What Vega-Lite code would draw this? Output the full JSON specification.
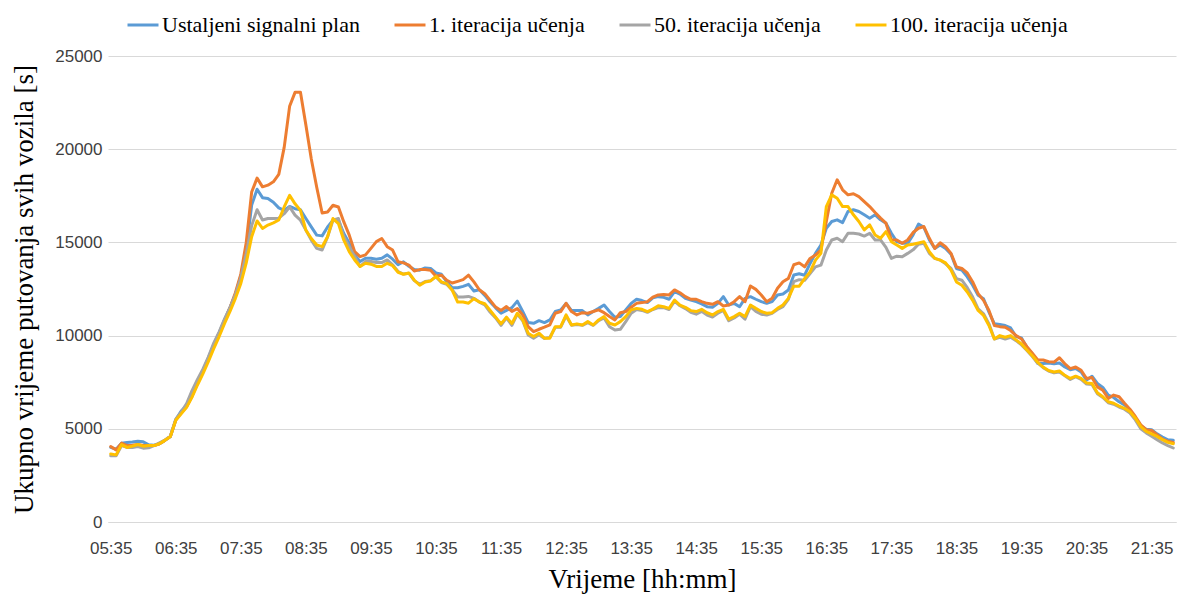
{
 "$schema": "https://vega.github.io/schema/vega-lite/v6.json",
 "width": 1068,
 "height": 466,
 "autosize": {"type": "none"},
 "padding": {"left": 108, "top": 56, "right": 8, "bottom": 76},
 "background": "white",
 "data": {"values": [
{"t":"05:35","B":4000,"O":4050,"G":3550,"Y":3650},
{"t":"05:40","B":3900,"O":3870,"G":3550,"Y":3600},
{"t":"05:45","B":4230,"O":4230,"G":4100,"Y":4150},
{"t":"05:50","B":4270,"O":4100,"G":4000,"Y":4000},
{"t":"05:55","B":4290,"O":4120,"G":4000,"Y":4070},
{"t":"06:00","B":4330,"O":4160,"G":4050,"Y":4160},
{"t":"06:05","B":4300,"O":4100,"G":3960,"Y":4070},
{"t":"06:10","B":4140,"O":4100,"G":3980,"Y":4100},
{"t":"06:15","B":4120,"O":4100,"G":4100,"Y":4100},
{"t":"06:20","B":4200,"O":4200,"G":4250,"Y":4200},
{"t":"06:25","B":4380,"O":4380,"G":4400,"Y":4380},
{"t":"06:30","B":4590,"O":4590,"G":4600,"Y":4580},
{"t":"06:35","B":5500,"O":5460,"G":5500,"Y":5460},
{"t":"06:40","B":5950,"O":5850,"G":5900,"Y":5800},
{"t":"06:45","B":6250,"O":6200,"G":6350,"Y":6150},
{"t":"06:50","B":6850,"O":6750,"G":7050,"Y":6700},
{"t":"06:55","B":7500,"O":7450,"G":7650,"Y":7350},
{"t":"07:00","B":8100,"O":8050,"G":8200,"Y":7950},
{"t":"07:05","B":8800,"O":8700,"G":8850,"Y":8600},
{"t":"07:10","B":9500,"O":9450,"G":9600,"Y":9300},
{"t":"07:15","B":10150,"O":10100,"G":10200,"Y":9950},
{"t":"07:20","B":10850,"O":10800,"G":10900,"Y":10650},
{"t":"07:25","B":11500,"O":11500,"G":11500,"Y":11300},
{"t":"07:30","B":12200,"O":12300,"G":12200,"Y":12000},
{"t":"07:35","B":13200,"O":13300,"G":13100,"Y":12800},
{"t":"07:40","B":14600,"O":15000,"G":14400,"Y":13900},
{"t":"07:45","B":17000,"O":17700,"G":15900,"Y":15300},
{"t":"07:50","B":17850,"O":18450,"G":16750,"Y":16150},
{"t":"07:55","B":17400,"O":17980,"G":16200,"Y":15750},
{"t":"08:00","B":17350,"O":18070,"G":16280,"Y":15930},
{"t":"08:05","B":17150,"O":18250,"G":16280,"Y":16050},
{"t":"08:10","B":16850,"O":18650,"G":16300,"Y":16200},
{"t":"08:15","B":16720,"O":20100,"G":16540,"Y":16900},
{"t":"08:20","B":16930,"O":22300,"G":16900,"Y":17520},
{"t":"08:25","B":16810,"O":23050,"G":16460,"Y":17070},
{"t":"08:30","B":16750,"O":23050,"G":16190,"Y":16720},
{"t":"08:35","B":16280,"O":21300,"G":15660,"Y":15660},
{"t":"08:40","B":15830,"O":19470,"G":15120,"Y":15210},
{"t":"08:45","B":15390,"O":17960,"G":14680,"Y":14860},
{"t":"08:50","B":15350,"O":16580,"G":14590,"Y":14770},
{"t":"08:55","B":15830,"O":16630,"G":15300,"Y":15300},
{"t":"09:00","B":16190,"O":16990,"G":16190,"Y":16280},
{"t":"09:05","B":16190,"O":16900,"G":16280,"Y":16010},
{"t":"09:10","B":15480,"O":16100,"G":15300,"Y":15120},
{"t":"09:15","B":14950,"O":15390,"G":14770,"Y":14500},
{"t":"09:20","B":14330,"O":14500,"G":14240,"Y":14060},
{"t":"09:25","B":13970,"O":14240,"G":13710,"Y":13710},
{"t":"09:30","B":14150,"O":14330,"G":13970,"Y":13880},
{"t":"09:35","B":14150,"O":14680,"G":13970,"Y":13830},
{"t":"09:40","B":14100,"O":15040,"G":13920,"Y":13710},
{"t":"09:45","B":14150,"O":15210,"G":13920,"Y":13710},
{"t":"09:50","B":14330,"O":14770,"G":14060,"Y":13880},
{"t":"09:55","B":14100,"O":14590,"G":13800,"Y":13750},
{"t":"10:00","B":13800,"O":13960,"G":13440,"Y":13400},
{"t":"10:05","B":13960,"O":13900,"G":13300,"Y":13290},
{"t":"10:10","B":13720,"O":13780,"G":13350,"Y":13360},
{"t":"10:15","B":13540,"O":13470,"G":12950,"Y":12970},
{"t":"10:20","B":13510,"O":13540,"G":12750,"Y":12700},
{"t":"10:25","B":13630,"O":13540,"G":12900,"Y":12880},
{"t":"10:30","B":13600,"O":13510,"G":12950,"Y":12930},
{"t":"10:35","B":13360,"O":13180,"G":13150,"Y":13180},
{"t":"10:40","B":13290,"O":13240,"G":12850,"Y":12880},
{"t":"10:45","B":12880,"O":12970,"G":12750,"Y":12790},
{"t":"10:50","B":12570,"O":12820,"G":12450,"Y":12430},
{"t":"10:55","B":12570,"O":12910,"G":12070,"Y":11800},
{"t":"11:00","B":12640,"O":13000,"G":12070,"Y":11800},
{"t":"11:05","B":12750,"O":13240,"G":12100,"Y":11740},
{"t":"11:10","B":12390,"O":12880,"G":12000,"Y":11980},
{"t":"11:15","B":12460,"O":12460,"G":11800,"Y":11800},
{"t":"11:20","B":12160,"O":12250,"G":11650,"Y":11710},
{"t":"11:25","B":11800,"O":11890,"G":11250,"Y":11350},
{"t":"11:30","B":11490,"O":11530,"G":10950,"Y":10990},
{"t":"11:35","B":11200,"O":11350,"G":10550,"Y":10630},
{"t":"11:40","B":11350,"O":11560,"G":10950,"Y":10990},
{"t":"11:45","B":11500,"O":11300,"G":10550,"Y":10650},
{"t":"11:50","B":11850,"O":11450,"G":11150,"Y":11200},
{"t":"11:55","B":11290,"O":11110,"G":10800,"Y":10840},
{"t":"12:00","B":10700,"O":10480,"G":10040,"Y":10130},
{"t":"12:05","B":10660,"O":10210,"G":9860,"Y":9950},
{"t":"12:10","B":10800,"O":10340,"G":10050,"Y":10130},
{"t":"12:15","B":10700,"O":10450,"G":9850,"Y":9860},
{"t":"12:20","B":10840,"O":10570,"G":9900,"Y":9860},
{"t":"12:25","B":11290,"O":11200,"G":10450,"Y":10480},
{"t":"12:30","B":11380,"O":11290,"G":10450,"Y":10480},
{"t":"12:35","B":11730,"O":11730,"G":11050,"Y":11110},
{"t":"12:40","B":11340,"O":11290,"G":10550,"Y":10570},
{"t":"12:45","B":11340,"O":11110,"G":10600,"Y":10630},
{"t":"12:50","B":11340,"O":11230,"G":10550,"Y":10570},
{"t":"12:55","B":11110,"O":11200,"G":10700,"Y":10750},
{"t":"13:00","B":11290,"O":11290,"G":10550,"Y":10570},
{"t":"13:05","B":11460,"O":11380,"G":10800,"Y":10840},
{"t":"13:10","B":11640,"O":11230,"G":10950,"Y":11020},
{"t":"13:15","B":11290,"O":11020,"G":10480,"Y":10660},
{"t":"13:20","B":10980,"O":10840,"G":10300,"Y":10570},
{"t":"13:25","B":11020,"O":11230,"G":10340,"Y":10750},
{"t":"13:30","B":11380,"O":11290,"G":10750,"Y":11020},
{"t":"13:35","B":11730,"O":11520,"G":11200,"Y":11380},
{"t":"13:40","B":11950,"O":11730,"G":11400,"Y":11460},
{"t":"13:45","B":11880,"O":11770,"G":11350,"Y":11410},
{"t":"13:50","B":11770,"O":11820,"G":11250,"Y":11290},
{"t":"13:55","B":12030,"O":12060,"G":11400,"Y":11420},
{"t":"14:00","B":12090,"O":12180,"G":11500,"Y":11600},
{"t":"14:05","B":12050,"O":12210,"G":11500,"Y":11550},
{"t":"14:10","B":11950,"O":12180,"G":11400,"Y":11460},
{"t":"14:15","B":12360,"O":12450,"G":11850,"Y":11910},
{"t":"14:20","B":12230,"O":12300,"G":11600,"Y":11640},
{"t":"14:25","B":12000,"O":12090,"G":11450,"Y":11520},
{"t":"14:30","B":11910,"O":11950,"G":11250,"Y":11340},
{"t":"14:35","B":11820,"O":11950,"G":11150,"Y":11290},
{"t":"14:40","B":11700,"O":11820,"G":11300,"Y":11410},
{"t":"14:45","B":11550,"O":11730,"G":11100,"Y":11230},
{"t":"14:50","B":11520,"O":11680,"G":11000,"Y":11110},
{"t":"14:55","B":11730,"O":11820,"G":11200,"Y":11290},
{"t":"15:00","B":12090,"O":11590,"G":11350,"Y":11410},
{"t":"15:05","B":11640,"O":11640,"G":10800,"Y":10880},
{"t":"15:10","B":11730,"O":11820,"G":10950,"Y":11020},
{"t":"15:15","B":11550,"O":12090,"G":11150,"Y":11200},
{"t":"15:20","B":12000,"O":11820,"G":10880,"Y":11020},
{"t":"15:25","B":12090,"O":12660,"G":11550,"Y":11640},
{"t":"15:30","B":11950,"O":12480,"G":11300,"Y":11460},
{"t":"15:35","B":11820,"O":12180,"G":11150,"Y":11290},
{"t":"15:40","B":11730,"O":11820,"G":11100,"Y":11200},
{"t":"15:45","B":11820,"O":12000,"G":11200,"Y":11230},
{"t":"15:50","B":12180,"O":12540,"G":11400,"Y":11460},
{"t":"15:55","B":12230,"O":12890,"G":11550,"Y":11640},
{"t":"16:00","B":12450,"O":13070,"G":11950,"Y":12000},
{"t":"16:05","B":13250,"O":13800,"G":12900,"Y":12650},
{"t":"16:10","B":13320,"O":13900,"G":13000,"Y":12650},
{"t":"16:15","B":13240,"O":13690,"G":12970,"Y":13060},
{"t":"16:20","B":13870,"O":14140,"G":13330,"Y":13420},
{"t":"16:25","B":14410,"O":14320,"G":13690,"Y":14050},
{"t":"16:30","B":14860,"O":14590,"G":13780,"Y":14410},
{"t":"16:35","B":15760,"O":16120,"G":14590,"Y":16920},
{"t":"16:40","B":16120,"O":17640,"G":15130,"Y":17550},
{"t":"16:45","B":16210,"O":18360,"G":15220,"Y":17370},
{"t":"16:50","B":16060,"O":17820,"G":15040,"Y":16920},
{"t":"16:55","B":16660,"O":17550,"G":15490,"Y":16920},
{"t":"17:00","B":16750,"O":17610,"G":15490,"Y":16480},
{"t":"17:05","B":16660,"O":17460,"G":15450,"Y":16120},
{"t":"17:10","B":16480,"O":17190,"G":15340,"Y":15670},
{"t":"17:15","B":16300,"O":16920,"G":15490,"Y":15940},
{"t":"17:20","B":16480,"O":16600,"G":15130,"Y":15400},
{"t":"17:25","B":16210,"O":16300,"G":15130,"Y":15220},
{"t":"17:30","B":16030,"O":16030,"G":14730,"Y":15580},
{"t":"17:35","B":15490,"O":15130,"G":14140,"Y":15040},
{"t":"17:40","B":15040,"O":15130,"G":14260,"Y":14860},
{"t":"17:45","B":14950,"O":14950,"G":14230,"Y":14680},
{"t":"17:50","B":14950,"O":15130,"G":14410,"Y":14860},
{"t":"17:55","B":15400,"O":15530,"G":14600,"Y":14900},
{"t":"18:00","B":15980,"O":15760,"G":14900,"Y":14970},
{"t":"18:05","B":15810,"O":15850,"G":14950,"Y":15040},
{"t":"18:10","B":15130,"O":15220,"G":14410,"Y":14500},
{"t":"18:15","B":14680,"O":14680,"G":14140,"Y":14140},
{"t":"18:20","B":14860,"O":14980,"G":14050,"Y":14050},
{"t":"18:25","B":14680,"O":14770,"G":13850,"Y":13900},
{"t":"18:30","B":14370,"O":14410,"G":13600,"Y":13510},
{"t":"18:35","B":13600,"O":13690,"G":13060,"Y":12880},
{"t":"18:40","B":13510,"O":13600,"G":12970,"Y":12700},
{"t":"18:45","B":13150,"O":13360,"G":12570,"Y":12340},
{"t":"18:50","B":12700,"O":12880,"G":12070,"Y":11890},
{"t":"18:55","B":12160,"O":12250,"G":11440,"Y":11350},
{"t":"19:00","B":11980,"O":11890,"G":11170,"Y":11080},
{"t":"19:05","B":11260,"O":11350,"G":10630,"Y":10540},
{"t":"19:10","B":10630,"O":10540,"G":9820,"Y":9820},
{"t":"19:15","B":10590,"O":10480,"G":9910,"Y":10000},
{"t":"19:20","B":10540,"O":10450,"G":9820,"Y":9910},
{"t":"19:25","B":10410,"O":10270,"G":9910,"Y":10000},
{"t":"19:30","B":9950,"O":10000,"G":9730,"Y":9770},
{"t":"19:35","B":9870,"O":9820,"G":9500,"Y":9550},
{"t":"19:40","B":9370,"O":9410,"G":9200,"Y":9230},
{"t":"19:45","B":9010,"O":9050,"G":8880,"Y":8920},
{"t":"19:50","B":8500,"O":8690,"G":8520,"Y":8560},
{"t":"19:55","B":8500,"O":8690,"G":8280,"Y":8310},
{"t":"20:00","B":8530,"O":8600,"G":8100,"Y":8130},
{"t":"20:05","B":8490,"O":8580,"G":8000,"Y":8050},
{"t":"20:10","B":8530,"O":8810,"G":8050,"Y":8100},
{"t":"20:15","B":8320,"O":8490,"G":7850,"Y":7870},
{"t":"20:20","B":8170,"O":8230,"G":7650,"Y":7700},
{"t":"20:25","B":8230,"O":8320,"G":7800,"Y":7820},
{"t":"20:30","B":8050,"O":8140,"G":7650,"Y":7700},
{"t":"20:35","B":7610,"O":7700,"G":7400,"Y":7460},
{"t":"20:40","B":7820,"O":7750,"G":7380,"Y":7430},
{"t":"20:45","B":7430,"O":7250,"G":6880,"Y":6930},
{"t":"20:50","B":7220,"O":7070,"G":6680,"Y":6720},
{"t":"20:55","B":6810,"O":6630,"G":6400,"Y":6450},
{"t":"21:00","B":6680,"O":6810,"G":6320,"Y":6370},
{"t":"21:05","B":6450,"O":6720,"G":6170,"Y":6220},
{"t":"21:10","B":6280,"O":6370,"G":6050,"Y":6100},
{"t":"21:15","B":6010,"O":6050,"G":5850,"Y":5920},
{"t":"21:20","B":5570,"O":5660,"G":5480,"Y":5570},
{"t":"21:25","B":5160,"O":5210,"G":5000,"Y":5120},
{"t":"21:30","B":4980,"O":4950,"G":4780,"Y":4860},
{"t":"21:35","B":4950,"O":4910,"G":4600,"Y":4730},
{"t":"21:40","B":4730,"O":4680,"G":4420,"Y":4590},
{"t":"21:45","B":4560,"O":4450,"G":4240,"Y":4420},
{"t":"21:50","B":4410,"O":4330,"G":4100,"Y":4270},
{"t":"21:55","B":4380,"O":4270,"G":3970,"Y":4200}
 ]},
 "transform": [{"fold": ["B", "O", "G", "Y"], "as": ["s", "v"]}],
 "mark": {"type": "line", "strokeWidth": 3, "strokeJoin": "round", "strokeCap": "round"},
 "encoding": {
  "x": {
   "field": "t", "type": "ordinal",
   "scale": {"type": "point", "padding": 0.5},
   "axis": {
    "values": ["05:35","06:35","07:35","08:35","09:35","10:35","11:35","12:35","13:35","14:35","15:35","16:35","17:35","18:35","19:35","20:35","21:35"],
    "title": "Vrijeme [hh:mm]",
    "labelAngle": 0, "labelFont": "Liberation Sans", "labelFontSize": 17, "labelColor": "#404040",
    "labelPadding": 18, "ticks": false, "grid": false, "domainColor": "#D9D9D9", "domainWidth": 1,
    "titleFont": "Liberation Serif", "titleFontSize": 27, "titleFontWeight": "normal", "titleColor": "#000000", "titlePadding": 10
   }
  },
  "y": {
   "field": "v", "type": "quantitative",
   "scale": {"domain": [0, 25000], "nice": false},
   "axis": {
    "values": [0, 5000, 10000, 15000, 20000, 25000],
    "format": "d",
    "title": "Ukupno vrijeme putovanja svih vozila [s]",
    "labelFont": "Liberation Sans", "labelFontSize": 17, "labelColor": "#404040", "labelPadding": 6,
    "ticks": false, "domain": false, "gridColor": "#D9D9D9", "gridWidth": 1,
    "titleFont": "Liberation Serif", "titleFontSize": 27, "titleFontWeight": "normal", "titleColor": "#000000", "titlePadding": 16
   }
  },
  "color": {
   "field": "s", "type": "nominal",
   "scale": {"domain": ["B", "O", "G", "Y"], "range": ["#5B9BD5", "#ED7D31", "#A5A5A5", "#FFC000"]},
   "legend": {
    "orient": "none", "legendX": 18, "legendY": -48, "direction": "horizontal", "columns": 4,
    "title": null, "symbolType": "stroke", "symbolSize": 961, "symbolStrokeWidth": 3,
    "labelFont": "Liberation Serif", "labelFontSize": 22, "labelColor": "#000000", "labelLimit": 400,
    "labelOffset": 2, "columnPadding": 28,
    "labelExpr": "{'B': 'Ustaljeni signalni plan', 'O': '1. iteracija učenja', 'G': '50. iteracija učenja', 'Y': '100. iteracija učenja'}[datum.label]"
   }
  }
 },
 "config": {"view": {"stroke": null}}
}
